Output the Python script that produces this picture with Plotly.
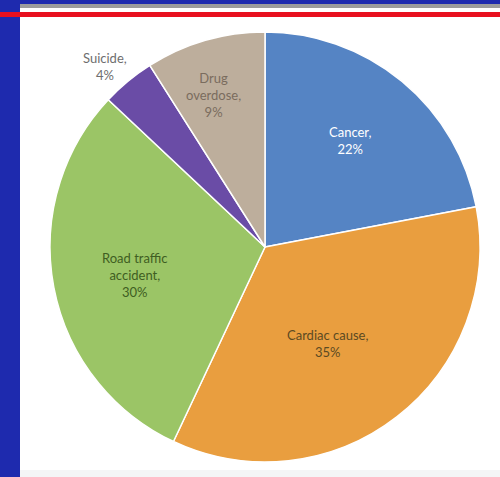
import plotly.graph_objects as go

causes = ["Cancer", "Cardiac cause", "Road traffic accident", "Suicide", "Drug overdose"]
shares = [22, 35, 30, 4, 9]
slice_colors = ["#5584C4", "#E99E3F", "#9BC566", "#6A4CA6", "#BDAE9C"]
label_texts = ["Cancer,<br>22%", "Cardiac cause,<br>35%", "Road traffic<br>accident,<br>30%",
               "Suicide,<br>4%", "Drug<br>overdose,<br>9%"]
label_colors = ["#FFFFFF", "#5C4A22", "#3F5E22", "#6E6E6E", "#7A6C5E"]
# label anchor positions in paper units (text placement only)
label_x = [0.70, 0.655, 0.27, 0.21, 0.426]
label_y = [0.705, 0.28, 0.424, 0.86, 0.80]

W, H = 500, 477

fig = go.Figure()
fig.add_trace(go.Pie(
    labels=causes, values=shares, sort=False, direction="clockwise", rotation=0,
    marker=dict(colors=slice_colors, line=dict(color="#FFFFFF", width=1.5)),
    textinfo="none", hoverinfo="label+percent", showlegend=False,
    domain=dict(x=[50 / W, 480 / W], y=[(H - 462) / H, (H - 32) / H]),
))

for t, c, x, y in zip(label_texts, label_colors, label_x, label_y):
    fig.add_annotation(x=x, y=y, xref="paper", yref="paper", text=t, showarrow=False,
                       font=dict(family="Lato, Open Sans, sans-serif", size=13, color=c),
                       align="center", xanchor="center", yanchor="middle")

def px_rect(x0, y0, x1, y1, color):
    fig.add_shape(type="rect", xref="paper", yref="paper", x0=x0 / W, x1=x1 / W,
                  y0=1 - y1 / H, y1=1 - y0 / H, fillcolor=color, line=dict(width=0), layer="below")

px_rect(20, 470, 500, 477, "#F4F5F6")
px_rect(0, 0, 500, 4, "#1E2AAE")
px_rect(20, 4, 500, 8, "#9C9C9C")
px_rect(0, 0, 20, 477, "#1E2AAE")
px_rect(0, 12, 500, 17, "#E8101F")

fig.update_layout(width=W, height=H, margin=dict(l=0, r=0, t=0, b=0),
                  paper_bgcolor="#FFFFFF", plot_bgcolor="#FFFFFF")
fig.write_html("out.html", config={"displayModeBar": False},
               post_script="document.body.style.margin='0';document.body.style.overflow='hidden';")
